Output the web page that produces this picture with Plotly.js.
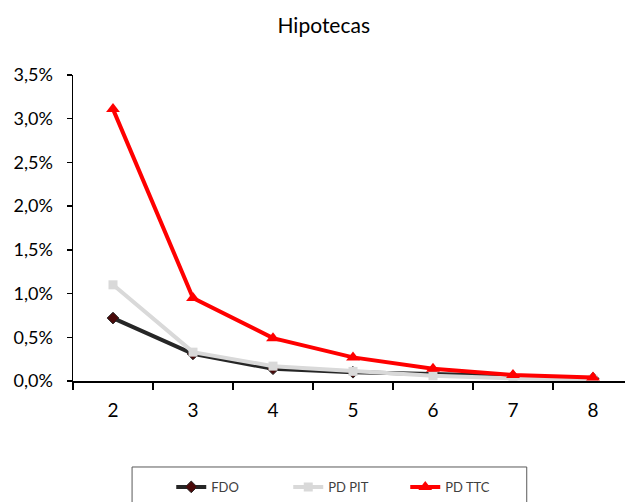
<!DOCTYPE html>
<html><head><meta charset="utf-8">
<script src="https://cdn.plot.ly/plotly-3.0.1.min.js"></script>
<style>html,body{margin:0;padding:0;background:#fff}#c{width:625px;height:502px}</style>
</head><body><div id="c"></div>
<script>
const categories = ["2","3","4","5","6","7","8"];
const fdo = [0.0072, 0.0031, 0.0014, 0.0010, 0.0008, 0.0005, 0.0003];
const pdPit = [0.0110, 0.0033, 0.0017, 0.0011, 0.0006, 0.0003, 0.0002];
const pdTtc = [0.0311, 0.0095, 0.0049, 0.0027, 0.0014, 0.0007, 0.0004];
const seriesNames = ["FDO", "PD PIT", "PD TTC"];

const font = "Lato, 'Open Sans', sans-serif";
const traces = [
  {x: categories, y: fdo, name: seriesNames[0], type: "scatter", mode: "lines+markers",
   line: {color: "#262626", width: 4}, marker: {symbol: "diamond", size: 9, color: "#4a0a0a", line: {color: "#262626", width: 1}}},
  {x: categories, y: pdPit, name: seriesNames[1], type: "scatter", mode: "lines+markers",
   line: {color: "#d9d9d9", width: 4}, marker: {symbol: "square", size: 9, color: "#d9d9d9"}},
  {x: categories, y: pdTtc, name: seriesNames[2], type: "scatter", mode: "lines+markers",
   line: {color: "#ff0000", width: 4}, marker: {symbol: "triangle-up", size: 12, color: "#ff0000"}}
];
const layout = {
  width: 625, height: 502,
  margin: {l: 73, r: 0, t: 75, b: 121, pad: 0, autoexpand: false},
  separators: ",.",
  paper_bgcolor: "#fff", plot_bgcolor: "#fff",
  font: {family: font, color: "#000", size: 16},
  title: {text: "Hipotecas", font: {family: font, size: 21, color: "#000"}, x: 0.518, xanchor: "center", y: 0.948, yanchor: "middle"},
  showlegend: true,
  legend: {orientation: "h", xref: "container", yref: "container", x: 0.274, y: 0.03, xanchor: "left", yanchor: "middle",
    font: {family: font, size: 13, color: "#404040"}, entrywidth: 72, entrywidthmode: "pixels",
    bgcolor: "rgba(0,0,0,0)", borderwidth: 0},
  xaxis: {type: "category", range: [-0.5, 6.4], tickson: "boundaries", ticks: "outside", ticklen: 7,
    tickcolor: "#000", tickwidth: 1.5, showline: true, linecolor: "#000", linewidth: 1.5,
    showgrid: false, zeroline: false, tickfont: {family: font, size: 19, color: "#000"}, fixedrange: true,
    ticklabelstandoff: 12},
  yaxis: {range: [0, 0.035], dtick: 0.005, tickformat: ".1%", ticks: "outside", ticklen: 5,
    tickcolor: "#000", tickwidth: 1.5, showline: true, linecolor: "#000", linewidth: 1.5,
    showgrid: false, zeroline: false, tickfont: {family: font, size: 18, color: "#000"}, ticklabelstandoff: 10},
  shapes: [{type: "rect", xref: "paper", yref: "paper", x0: 0.107, x1: 0.822, y0: -0.281, y1: -0.42,
    line: {color: "#595959", width: 1}, fillcolor: "rgba(0,0,0,0)"}]
};
Plotly.newPlot("c", traces, layout, {displayModeBar: false, staticPlot: true});
</script></body></html>
